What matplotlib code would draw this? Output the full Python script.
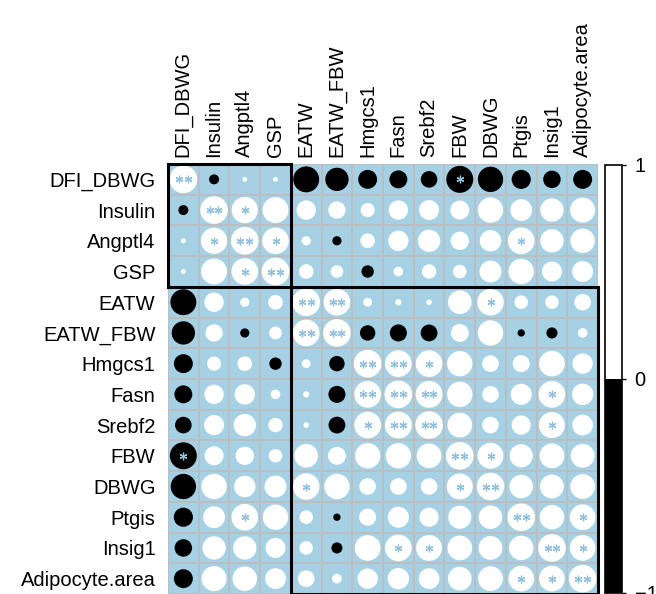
import numpy as np
import matplotlib
matplotlib.use("Agg")
import matplotlib.pyplot as plt
from matplotlib.patches import Circle, Rectangle
from matplotlib.colors import ListedColormap, Normalize
import matplotlib.cm as cm

plt.rcParams['font.family'] = ['Liberation Sans', 'DejaVu Sans']

labels = ['DFI_DBWG', 'Insulin', 'Angptl4', 'GSP', 'EATW', 'EATW_FBW', 'Hmgcs1',
          'Fasn', 'Srebf2', 'FBW', 'DBWG', 'Ptgis', 'Insig1', 'Adipocyte.area']

# upper triangle of the correlation matrix, row by row (values right of the diagonal)
r_dfi = [-0.13, 0.03, 0.03, -0.88, -0.71, -0.47, -0.42, -0.36, -0.95, -0.84, -0.48, -0.40, -0.47]
r_insulin = [0.90, 0.88, 0.49, 0.39, 0.26, 0.49, 0.52, 0.47, 0.84, 0.62, 0.71, 0.82]
r_angptl4 = [0.92, 0.11, -0.11, 0.28, 0.54, 0.65, 0.44, 0.60, 0.93, 0.71, 0.78]
r_gsp = [0.28, 0.21, -0.20, 0.12, 0.27, 0.24, 0.63, 0.84, 0.52, 0.57]
r_eatw = [0.93, 0.10, 0.05, 0.04, 0.73, 0.92, 0.24, 0.24, 0.36]
r_eatw_fbw = [-0.31, -0.38, -0.37, 0.42, 0.84, -0.07, -0.16, 0.12]
r_hmgcs1 = [0.93, 0.93, 0.84, 0.36, 0.38, 0.86, 0.54]
r_fasn = [0.95, 0.84, 0.36, 0.58, 0.93, 0.60]
r_srebf2 = [0.80, 0.36, 0.48, 0.88, 0.56]
r_fbw = [0.88, 0.70, 0.80, 0.74]
r_dbwg = [0.72, 0.74, 0.80]
r_ptgis = [0.78, 0.86]
r_insig1 = [0.86]

upper_rows = [r_dfi, r_insulin, r_angptl4, r_gsp, r_eatw, r_eatw_fbw, r_hmgcs1,
              r_fasn, r_srebf2, r_fbw, r_dbwg, r_ptgis, r_insig1]

# significance marks (pairs, upper triangle); diagonal is always **
sig_one = [(0, 9), (1, 2), (2, 3), (2, 11), (4, 10), (6, 8), (7, 12), (8, 12),
           (9, 10), (11, 13), (12, 13)]
sig_two = [(4, 5), (6, 7), (7, 8)]

# clusters drawn as rectangles: (first index, last index)
clusters = [(0, 3), (4, 13)]

n = len(labels)
corr = np.eye(n)
for i, row in enumerate(upper_rows):
    for k, v in enumerate(row):
        corr[i, i + 1 + k] = v
        corr[i + 1 + k, i] = v

stars = np.zeros((n, n), dtype=int)
for i in range(n):
    stars[i, i] = 2
for i, j in sig_one:
    stars[i, j] = stars[j, i] = 1
for i, j in sig_two:
    stars[i, j] = stars[j, i] = 2

bg = '#a6d1e5'
star_col = '#8fc0dd'

fig = plt.figure(figsize=(6.56, 5.94), dpi=100)
ax = fig.add_axes([168 / 656, 0, 430 / 656, 430 / 594])
ax.set_xlim(0, n)
ax.set_ylim(n, 0)
ax.set_aspect('equal')
ax.add_patch(Rectangle((0, 0), n, n, facecolor=bg, edgecolor='none', zorder=0))

for k in range(n + 1):
    ax.axhline(k, color='#bdbdbd', lw=1.3, zorder=1)
    ax.axvline(k, color='#bdbdbd', lw=1.3, zorder=1)

for i in range(n):
    for j in range(n):
        v = corr[i, j]
        col = 'white' if v >= 0 else 'black'
        ax.add_patch(Circle((j + 0.5, i + 0.5), 0.45 * np.sqrt(abs(v)),
                            facecolor=col, edgecolor='none', zorder=2))
        if stars[i, j] == 1:
            ax.plot([j + 0.5], [i + 0.5], marker=(6, 2, 0), ms=5.5, mew=0.9,
                    color=star_col, zorder=3)
        elif stars[i, j] == 2:
            ax.plot([j + 0.36, j + 0.64], [i + 0.5, i + 0.5], ls='none',
                    marker=(6, 2, 0), ms=5.5, mew=0.9, color=star_col, zorder=3)

for a, b in clusters:
    ax.add_patch(Rectangle((a, a), b - a + 1, b - a + 1, fill=False,
                           edgecolor='black', lw=2.2, zorder=4, clip_on=False))

ax.set_xticks(np.arange(n) + 0.5)
ax.set_yticks(np.arange(n) + 0.5)
ax.xaxis.tick_top()
ax.set_xticklabels(labels, rotation=90, fontsize=14.5)
ax.set_yticklabels(labels, fontsize=14.5)
ax.tick_params(axis='x', length=0, pad=5)
ax.tick_params(axis='y', length=0, pad=9)
for s in ax.spines.values():
    s.set_visible(False)

# colour legend
cax = fig.add_axes([605 / 656, 1 / 594, 17 / 656, 428 / 594])
sm = cm.ScalarMappable(norm=Normalize(-1, 1), cmap=ListedColormap(['black', 'white']))
cb = fig.colorbar(sm, cax=cax, ticks=[-1, 0, 1])
cb.ax.set_yticklabels(['\u22121', '0', '1'], fontsize=14.5)
cb.ax.tick_params(length=3, width=1, pad=6)
cb.outline.set_linewidth(1.2)

fig.savefig('out.png', dpi=100)
